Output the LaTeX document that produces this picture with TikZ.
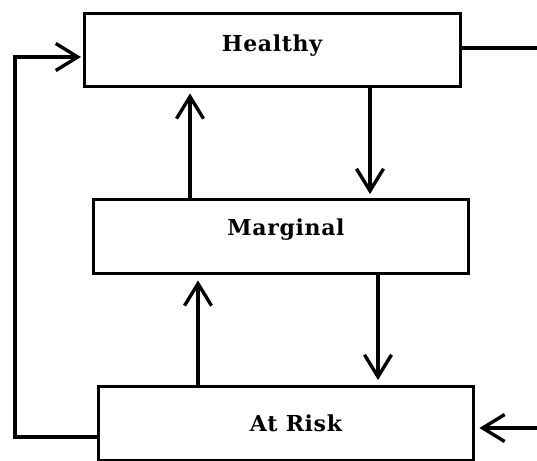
\documentclass[tikz,border=0pt]{standalone}
\usepackage{fontspec}
\newfontfamily\boxfont[LetterSpace=3]{DejaVu Serif}
\usetikzlibrary{arrows.meta}
\begin{document}
\begin{tikzpicture}[x=1pt,y=-1pt,
  statebox/.style={draw, line width=3.4pt, minimum width=376pt, minimum height=73pt, inner sep=0pt, anchor=north west},
  statelabel/.style={font=\boxfont\bfseries\fontsize{22}{26}\selectfont, inner sep=0pt},
  flow/.style={line width=3.4pt, -{Straight Barb[length=22pt,width=27pt,line width=3.4pt]}},
  plain/.style={line width=3.4pt}]
\useasboundingbox (0,0) rectangle (537,460);
\node[statebox] (h) at (83,12) {};
\node[statebox, minimum width=375pt, minimum height=74pt] (m) at (92,198) {};
\node[statebox, minimum width=375pt, minimum height=74pt] (r) at (97,385) {};
\node[statelabel] (ht) at (272,46) {Healthy};
\node[statelabel] (mt) at (286,230) {Marginal};
\node[statelabel] (rt) at (296,423) {At Risk};
\coordinate (lb) at (15,437);
\coordinate (lt) at (15,57);
\coordinate (re) at (537,48);
\coordinate (rr) at (537,428);
% vertical arrows
\draw[flow, shorten >=4pt] (h.south -| 370,0) -- (m.north -| 370,0);
\draw[flow, shorten >=5pt] (m.north -| 190,0) -- (h.south -| 190,0);
\draw[flow, shorten >=5pt] (m.south -| 378,0) -- (r.north -| 378,0);
\draw[flow, shorten >=5pt] (r.north -| 198,0) -- (m.south -| 198,0);
% loop
\draw[flow, shorten >=2pt] (r.west |- lb) -- (lb) -- (lt) -- (h.west |- lt);
\draw[plain] (h.east |- re) -- (re);
\draw[flow, shorten >=4pt] (rr) -- (r.east |- rr);
\end{tikzpicture}
\end{document}
